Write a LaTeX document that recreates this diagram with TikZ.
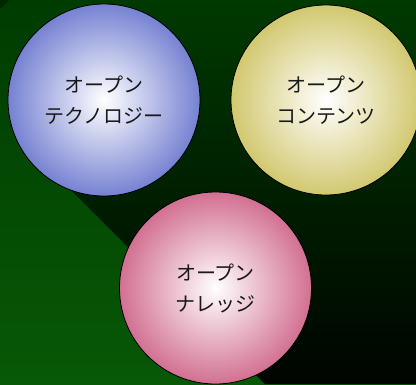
\documentclass[tikz,border=0pt]{standalone}
\usepackage{fontspec}
\newfontfamily\jp{Noto Sans CJK JP}
\definecolor{bgtop}{RGB}{0,60,0}
\definecolor{bgbot}{RGB}{7,88,7}
\definecolor{shtop}{RGB}{0,58,0}
\definecolor{shbot}{RGB}{0,4,0}
\definecolor{corner}{RGB}{0,40,0}
\definecolor{bluedge}{RGB}{118,130,210}
\definecolor{yeledge}{RGB}{210,200,112}
\definecolor{pinkedge}{RGB}{210,112,145}
\definecolor{txt}{RGB}{25,25,25}
\tikzset{
  ball/.style={circle, draw=black, line width=0.8pt, minimum size=192pt,
    inner sep=0pt, shading=radial, inner color=white, align=center,
    text=txt, font=\jp\fontsize{20}{31}\selectfont}
}
\begin{document}
\begin{tikzpicture}[x=1pt,y=-1pt]
  \useasboundingbox (0,0) rectangle (416,384);
  % background
  \shade[top color=bgtop, bottom color=bgbot] (0,0) rectangle (416,384);
  % diagonal shadow region
  \shade[top color=shtop, bottom color=shbot]
    (104,0) -- (416,0) -- (416,384) -- (265,384) -- (40,159) -- (104,100) -- cycle;
  % corner triangle
  \fill[corner] (0,0) -- (9,0) -- (0,9) -- cycle;
  % circles
  \node[ball, outer color=bluedge] (tech) at (104,100) {オープン\\テクノロジー};
  \node[ball, outer color=yeledge, minimum size=190pt] (cont) at (326,100) {オープン\\コンテンツ};
  \node[ball, outer color=pinkedge] (know) at (215.5,288) {オープン\\ナレッジ};
\end{tikzpicture}
\end{document}
